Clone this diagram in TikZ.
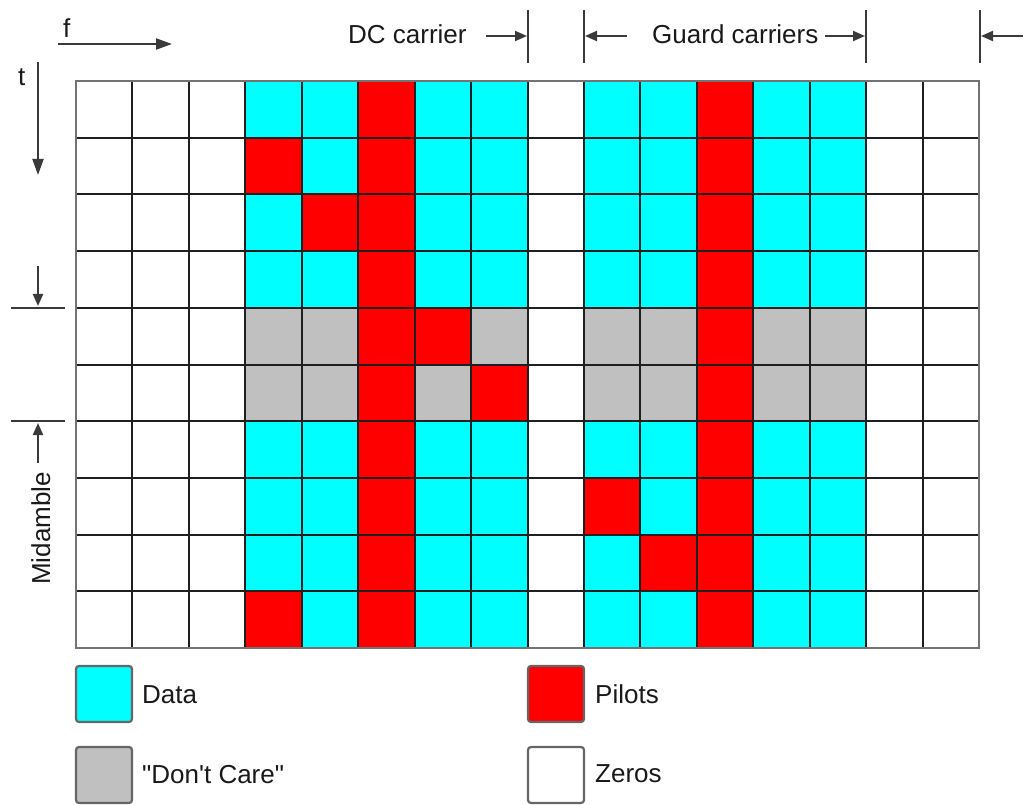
\documentclass[tikz,border=0pt]{standalone}
\usepackage{fontspec}
\setmainfont{Liberation Sans}
\usetikzlibrary{arrows.meta}
\definecolor{datac}{HTML}{00FFFF}
\definecolor{pilotc}{HTML}{FF0000}
\definecolor{carec}{HTML}{C0C0C0}
\definecolor{linec}{HTML}{3A3A3A}
\tikzset{
  lbl/.style={font=\fontsize{26}{30}\selectfont, inner sep=0pt, text=black!90},
  bigarr/.style={draw=linec, line width=2pt, -{Triangle[length=16pt,width=11pt]}},
  smallarr/.style={draw=linec, line width=2pt, -{Triangle[length=12pt,width=10pt]}},
  tickline/.style={draw=linec, line width=2.2pt},
  gridline/.style={draw=black!88, line width=2pt},
  legbox/.style={draw=black!60, line width=2.2pt, rounded corners=3pt, minimum size=56pt, inner sep=0pt},
}
\begin{document}
\begin{tikzpicture}[x=1pt,y=-1pt]
\useasboundingbox (0,0) rectangle (1026,805);
% grid
\begin{scope}[shift={(76pt,-81pt)}, x=56.44pt, y=-56.7pt]
  \fill[datac] (3,0) rectangle (8,10);
  \fill[datac] (9,0) rectangle (14,10);
  \fill[carec] (3,4) rectangle (8,6);
  \fill[carec] (9,4) rectangle (14,6);
  \fill[pilotc] (5,0) rectangle (6,10);
  \fill[pilotc] (11,0) rectangle (12,10);
  \foreach \c/\r in {3/1,4/2,6/4,7/5,3/9,9/7,10/8}
    \fill[pilotc] (\c,\r) rectangle ++(1,1);
  \foreach \i in {0,...,16} \draw[gridline] (\i,0) -- (\i,10);
  \foreach \j in {0,...,10} \draw[gridline] (0,\j) -- (16,\j);
  \draw[line width=2.2pt, black!55] (0,0) rectangle (16,10);
\end{scope}
% f and t
\node[lbl, anchor=base west] (flbl) at (63,38) {f};
\coordinate (fs) at (58,44); \coordinate (fe) at (172,44);
\draw[bigarr] (fs) -- (fe);
\node[lbl, anchor=base west] (tlbl) at (18,86) {t};
\coordinate (ts) at (38,62); \coordinate (te) at (38,175);
\draw[bigarr] (ts) -- (te);
% left markers
\coordinate (m1s) at (38,266); \coordinate (m1e) at (38,306);
\draw[smallarr] (m1s) -- (m1e);
\coordinate (h1a) at (11,308); \coordinate (h1b) at (65,308);
\draw[tickline] (h1a) -- (h1b);
\coordinate (h2a) at (11,421); \coordinate (h2b) at (65,421);
\draw[tickline] (h2a) -- (h2b);
\coordinate (m2s) at (38,463); \coordinate (m2e) at (38,423);
\draw[smallarr] (m2s) -- (m2e);
\node[lbl, rotate=90, anchor=base west] (mid) at (50,585) {Midamble};
% top markers
\node[lbl, anchor=base west] (dc) at (348,44) {DC carrier};
\coordinate (k1a) at (528,10); \coordinate (k1b) at (528,63);
\draw[tickline] (k1a) -- (k1b);
\coordinate (a1s) at (486,36); \coordinate (a1e) at (527,36);
\draw[smallarr] (a1s) -- (a1e);
\coordinate (k2a) at (584,10); \coordinate (k2b) at (584,63);
\draw[tickline] (k2a) -- (k2b);
\coordinate (a2s) at (627,36); \coordinate (a2e) at (585,36);
\draw[smallarr] (a2s) -- (a2e);
\node[lbl, anchor=base west] (gc) at (652,44) {Guard carriers};
\coordinate (a3s) at (825,36); \coordinate (a3e) at (865,36);
\draw[smallarr] (a3s) -- (a3e);
\coordinate (k3a) at (866,10); \coordinate (k3b) at (866,63);
\draw[tickline] (k3a) -- (k3b);
\coordinate (k4a) at (980,10); \coordinate (k4b) at (980,63);
\draw[tickline] (k4a) -- (k4b);
\coordinate (a4s) at (1023,36); \coordinate (a4e) at (981,36);
\draw[smallarr] (a4s) -- (a4e);
% legend
\node[legbox, fill=datac] (ldata) at (104,694) {};
\node[lbl, anchor=base west] (tdata) at (142,703) {Data};
\node[legbox, fill=carec] (lcare) at (104,775) {};
\node[lbl, anchor=base west] (tcare) at (142,783) {\textquotedbl Don\textquotesingle t Care\textquotedbl};
\node[legbox, fill=pilotc] (lpilot) at (556,694) {};
\node[lbl, anchor=base west] (tpilot) at (595,703) {Pilots};
\node[legbox, fill=white] (lzero) at (556,775) {};
\node[lbl, anchor=base west] (tzero) at (595,782) {Zeros};
\end{tikzpicture}
\end{document}
